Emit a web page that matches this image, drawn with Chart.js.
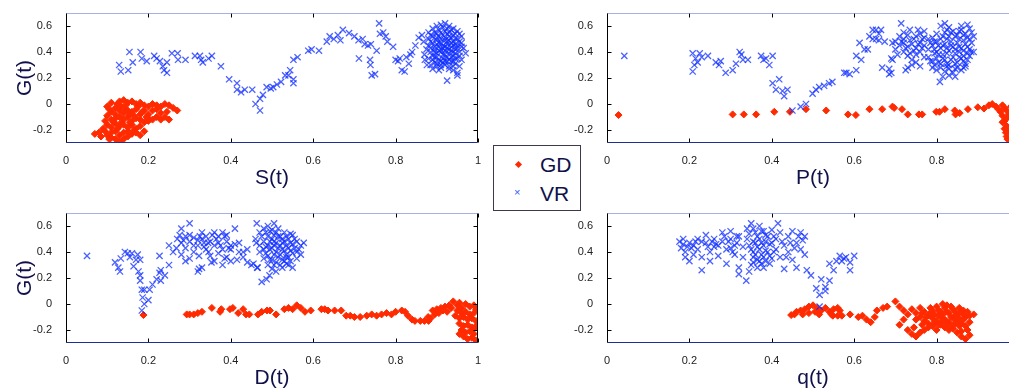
<!DOCTYPE html>
<html>
<head>
<meta charset="utf-8">
<script src="https://cdn.jsdelivr.net/npm/chart.js@4/dist/chart.umd.min.js"></script>
<style>
html,body{margin:0;padding:0;background:#fff;overflow:hidden;width:1009px;height:388px}
canvas{position:absolute}
#legend{position:absolute;left:493px;top:145px;width:86px;height:64px;border:1px solid #3a3a4a;background:#fff;font-family:"Liberation Sans",Arial,sans-serif;color:#10104a}
#legend .lbl{position:absolute;left:46px;font-size:21px;line-height:21px}
#legend .dia{position:absolute;left:22px;width:5px;height:5px;background:#ff2a00;transform:rotate(45deg)}
#legend .x{position:absolute;left:20px;font-size:11px;line-height:11px;color:#3355ff}
</style>
</head>
<body>
<canvas id="c1" width="490" height="195" style="left:0;top:0"></canvas>
<canvas id="c2" width="490" height="195" style="left:541px;top:0"></canvas>
<canvas id="c3" width="490" height="195" style="left:0;top:200px"></canvas>
<canvas id="c4" width="490" height="195" style="left:541px;top:200px"></canvas>
<div id="legend">
  <span class="dia" style="top:16px"></span><span class="lbl" style="top:8px">GD</span>
  <span class="x" style="top:41px">&times;</span><span class="lbl" style="top:37px">VR</span>
</div>
<script>
const xTicks = [0, 0.2, 0.4, 0.6, 0.8, 1]
const yTicks = [-0.2, 0, 0.2, 0.4, 0.6]
const xNames = ['S(t)', 'P(t)', 'D(t)', 'q(t)']
const yName = 'G(t)'

// [x, G] pairs
const gdS = [[0.10,-0.02],[0.11,0.01],[0.12,-0.03],[0.13,0.02],[0.14,0.03],[0.15,0.01],[0.16,0.02],[0.17,0.00],[0.18,0.01],[0.19,-0.01],[0.20,-0.02],[0.21,0.00],[0.22,-0.01],[0.23,-0.02],[0.24,0.00],[0.25,-0.01],[0.26,-0.03],[0.27,-0.05],[0.245,-0.06],[0.23,-0.07],[0.22,-0.10],[0.24,-0.10],[0.25,-0.12],[0.21,-0.12],[0.20,-0.08],[0.19,-0.05],[0.18,-0.08],[0.17,-0.04],[0.16,-0.06],[0.15,-0.05],[0.14,-0.07],[0.13,-0.05],[0.12,-0.08],[0.11,-0.06],[0.10,-0.09],[0.11,-0.12],[0.12,-0.11],[0.13,-0.10],[0.14,-0.12],[0.15,-0.10],[0.16,-0.13],[0.17,-0.11],[0.18,-0.12],[0.19,-0.14],[0.20,-0.13],[0.155,-0.08],[0.165,-0.09],[0.135,-0.02],[0.145,-0.01],[0.125,0.00],[0.175,-0.02],[0.185,-0.06],[0.105,-0.04],[0.095,-0.13],[0.10,-0.16],[0.11,-0.18],[0.12,-0.15],[0.13,-0.17],[0.14,-0.16],[0.15,-0.18],[0.16,-0.16],[0.17,-0.19],[0.18,-0.17],[0.09,-0.19],[0.08,-0.22],[0.07,-0.23],[0.085,-0.25],[0.10,-0.24],[0.11,-0.22],[0.12,-0.21],[0.13,-0.24],[0.14,-0.22],[0.15,-0.21],[0.16,-0.23],[0.17,-0.22],[0.18,-0.24],[0.12,-0.27],[0.13,-0.29],[0.11,-0.26],[0.14,-0.27],[0.19,-0.21],[0.095,-0.21],[0.105,-0.27],[0.15,-0.25],[0.125,-0.19],[0.20,-0.11],[0.21,-0.05],[0.22,-0.04],[0.23,-0.12],[0.195,-0.10],[0.115,-0.14],[0.135,-0.14],[0.145,-0.04],[0.155,-0.14],[0.165,-0.20]]

const vrS = [[0.129,0.30],[0.133,0.25],[0.151,0.26],[0.154,0.40],[0.162,0.32],[0.181,0.40],[0.184,0.35],[0.196,0.33],[0.214,0.37],[0.22,0.35],[0.228,0.33],[0.235,0.29],[0.238,0.26],[0.245,0.24],[0.245,0.32],[0.257,0.39],[0.271,0.39],[0.272,0.34],[0.29,0.34],[0.313,0.37],[0.325,0.37],[0.328,0.34],[0.332,0.32],[0.346,0.35],[0.354,0.37],[0.376,0.29],[0.396,0.19],[0.415,0.16],[0.415,0.11],[0.425,0.09],[0.434,0.11],[0.452,0.11],[0.46,0.0],[0.471,-0.05],[0.471,0.04],[0.478,0.07],[0.487,0.13],[0.497,0.12],[0.503,0.13],[0.512,0.15],[0.522,0.17],[0.532,0.22],[0.544,0.26],[0.54,0.22],[0.552,0.16],[0.552,0.19],[0.552,0.34],[0.562,0.36],[0.588,0.41],[0.596,0.42],[0.614,0.41],[0.633,0.48],[0.64,0.52],[0.65,0.50],[0.66,0.53],[0.666,0.49],[0.672,0.57],[0.687,0.545],[0.70,0.52],[0.71,0.49],[0.72,0.50],[0.711,0.35],[0.725,0.46],[0.733,0.45],[0.738,0.34],[0.739,0.30],[0.742,0.22],[0.75,0.23],[0.74,0.46],[0.754,0.41],[0.76,0.62],[0.762,0.54],[0.77,0.55],[0.776,0.52],[0.78,0.48],[0.794,0.44],[0.80,0.34],[0.806,0.33],[0.81,0.35],[0.815,0.26],[0.822,0.25],[0.826,0.36],[0.832,0.31],[0.836,0.38],[0.84,0.40],[0.848,0.45],[0.856,0.51],[0.864,0.53],[0.868,0.48],[0.871,0.34],[0.876,0.30],
  [0.88,0.55],[0.89,0.58],[0.90,0.60],[0.91,0.61],[0.92,0.62],[0.93,0.60],[0.94,0.58],[0.95,0.56],[0.96,0.52],[0.88,0.50],[0.89,0.52],[0.90,0.54],[0.91,0.55],[0.92,0.56],[0.93,0.55],[0.94,0.53],[0.95,0.50],[0.96,0.47],[0.88,0.45],[0.89,0.47],[0.90,0.49],[0.91,0.50],[0.92,0.51],[0.93,0.49],[0.94,0.48],[0.95,0.45],[0.965,0.43],[0.885,0.40],[0.895,0.42],[0.905,0.44],[0.915,0.45],[0.925,0.46],[0.935,0.44],[0.945,0.42],[0.955,0.40],[0.97,0.39],[0.88,0.35],[0.89,0.37],[0.90,0.39],[0.91,0.40],[0.92,0.41],[0.93,0.39],[0.94,0.37],[0.95,0.35],[0.96,0.34],[0.885,0.30],[0.895,0.32],[0.905,0.34],[0.915,0.35],[0.925,0.36],[0.935,0.33],[0.945,0.31],[0.955,0.29],[0.89,0.27],[0.90,0.29],[0.91,0.28],[0.92,0.30],[0.93,0.27],[0.94,0.26],[0.95,0.24],[0.925,0.18],[0.95,0.22],[0.875,0.42],[0.87,0.38],[0.905,0.57],[0.915,0.59],[0.935,0.57],[0.945,0.54],[0.955,0.48],[0.955,0.54],[0.90,0.46],[0.91,0.42],[0.92,0.44],[0.93,0.42],[0.94,0.45],[0.93,0.52],[0.92,0.49],[0.91,0.47],[0.90,0.51],[0.895,0.36],[0.915,0.32],[0.935,0.36],[0.945,0.39],[0.905,0.26],[0.925,0.33],[0.94,0.29],
  [0.885,0.53],[0.895,0.55],[0.905,0.52],[0.915,0.53],[0.925,0.54],[0.935,0.51],[0.945,0.50],[0.885,0.48],[0.895,0.44],[0.905,0.47],[0.915,0.43],[0.925,0.48],[0.935,0.47],[0.945,0.46],[0.885,0.43],[0.895,0.40],[0.905,0.41],[0.915,0.38],[0.925,0.43],[0.935,0.41],[0.945,0.35],[0.89,0.34],[0.90,0.36],[0.91,0.33],[0.92,0.38],[0.93,0.34],[0.94,0.33],[0.90,0.31],[0.92,0.33],[0.94,0.40],[0.95,0.43],[0.96,0.44],[0.955,0.37],[0.925,0.58],[0.93,0.29],[0.91,0.30]]

const gdP = [[0.028,-0.085],[0.305,-0.08],[0.332,-0.08],[0.362,-0.08],[0.406,-0.06],[0.444,-0.06],[0.483,-0.04],[0.532,-0.05],[0.585,-0.08],[0.604,-0.085],[0.637,-0.04],[0.668,-0.04],[0.693,-0.02],[0.697,-0.03],[0.716,-0.04],[0.73,-0.08],[0.757,-0.08],[0.765,-0.08],[0.799,-0.06],[0.807,-0.06],[0.82,-0.04],[0.844,-0.05],[0.846,-0.08],[0.856,-0.07],[0.876,-0.04],[0.90,-0.025],[0.915,-0.035],[0.927,-0.01],[0.935,0.0],[0.944,-0.02],[0.95,-0.04],[0.955,-0.06],[0.96,-0.01],[0.96,-0.09],[0.965,-0.03],[0.965,-0.13],[0.97,-0.05],[0.97,-0.17],[0.975,-0.08],[0.975,-0.21],[0.97,-0.25],[0.96,-0.14],[0.965,-0.19],[0.97,-0.11],[0.968,-0.22],[0.972,-0.27],[0.98,-0.02],[0.98,-0.11],[0.98,-0.27],[0.985,-0.06],[0.985,-0.15],[0.99,-0.03],[0.99,-0.19],[0.99,-0.24],[0.995,-0.09]]

const vrP = [[0.042,0.37],[0.208,0.39],[0.208,0.25],[0.212,0.30],[0.215,0.35],[0.22,0.32],[0.225,0.39],[0.23,0.36],[0.245,0.37],[0.264,0.32],[0.272,0.30],[0.276,0.33],[0.288,0.24],[0.305,0.26],[0.313,0.31],[0.322,0.40],[0.326,0.38],[0.33,0.34],[0.342,0.34],[0.374,0.37],[0.38,0.34],[0.386,0.35],[0.394,0.30],[0.402,0.37],[0.402,0.16],[0.41,0.11],[0.418,0.19],[0.426,0.10],[0.43,0.06],[0.438,0.11],[0.45,-0.05],[0.47,-0.02],[0.483,0.0],[0.499,0.08],[0.507,0.11],[0.515,0.13],[0.527,0.14],[0.539,0.16],[0.547,0.17],[0.576,0.24],[0.581,0.24],[0.589,0.23],[0.605,0.26],[0.605,0.37],[0.617,0.34],[0.613,0.47],[0.625,0.42],[0.633,0.42],[0.637,0.52],[0.645,0.57],[0.645,0.50],[0.653,0.50],[0.653,0.57],[0.66,0.54],[0.665,0.57],[0.66,0.49],[0.674,0.48],[0.668,0.28],[0.685,0.27],[0.685,0.23],[0.69,0.24],[0.693,0.34],[0.69,0.35],[0.693,0.47],[0.70,0.48],[0.705,0.38],[0.714,0.62],[0.72,0.55],[0.725,0.26],[0.735,0.57],[0.735,0.39],[0.745,0.50],[0.755,0.57],[0.76,0.29],
  [0.70,0.42],[0.71,0.45],[0.72,0.47],[0.73,0.44],[0.74,0.46],[0.75,0.43],[0.76,0.47],[0.77,0.45],[0.71,0.52],[0.72,0.50],[0.73,0.53],[0.75,0.52],[0.76,0.54],[0.77,0.51],[0.72,0.40],[0.73,0.37],[0.74,0.34],[0.75,0.38],[0.76,0.40],[0.77,0.36],[0.74,0.30],[0.75,0.32],[0.73,0.28],[0.77,0.56],[0.78,0.50],
  [0.78,0.42],[0.79,0.45],[0.80,0.40],[0.81,0.43],[0.82,0.46],[0.83,0.41],[0.84,0.44],[0.85,0.47],[0.86,0.43],[0.87,0.46],[0.88,0.42],[0.89,0.40],[0.78,0.36],[0.79,0.33],[0.80,0.35],[0.81,0.31],[0.82,0.34],[0.83,0.30],[0.84,0.36],[0.85,0.32],[0.86,0.35],[0.87,0.31],[0.88,0.37],[0.79,0.28],[0.80,0.26],[0.81,0.28],[0.82,0.25],[0.83,0.27],[0.84,0.24],[0.85,0.28],[0.86,0.26],[0.87,0.29],[0.808,0.17],[0.815,0.21],[0.83,0.22],[0.845,0.21],[0.79,0.51],[0.80,0.54],[0.81,0.50],[0.82,0.55],[0.83,0.52],[0.84,0.56],[0.85,0.53],[0.86,0.57],[0.87,0.54],[0.88,0.58],[0.88,0.50],[0.89,0.52],[0.81,0.60],[0.82,0.62],[0.83,0.59],[0.86,0.60],[0.875,0.61],[0.885,0.47],[0.884,0.40],[0.80,0.48],[0.815,0.38],[0.825,0.39],[0.835,0.48],[0.845,0.39],[0.855,0.40],[0.865,0.49],[0.875,0.39],[0.795,0.39],[0.805,0.45],[0.825,0.50],[0.855,0.50],[0.865,0.37],
  [0.785,0.47],[0.795,0.42],[0.805,0.38],[0.815,0.45],[0.825,0.43],[0.835,0.45],[0.845,0.42],[0.855,0.44],[0.865,0.41],[0.875,0.44],[0.785,0.33],[0.805,0.32],[0.815,0.35],[0.825,0.31],[0.835,0.34],[0.845,0.31],[0.855,0.36],[0.865,0.33],[0.875,0.34],[0.795,0.30],[0.825,0.29],[0.845,0.27],[0.865,0.28],[0.795,0.48],[0.815,0.52],[0.825,0.57],[0.835,0.55],[0.845,0.52],[0.855,0.56],[0.865,0.53],[0.875,0.51],[0.885,0.55],[0.715,0.48],[0.725,0.43],[0.745,0.41],[0.755,0.46],[0.765,0.43],[0.765,0.50],[0.735,0.49]]

const gdD = [[0.188,-0.085],[0.293,-0.08],[0.30,-0.08],[0.31,-0.08],[0.32,-0.07],[0.33,-0.06],[0.354,-0.03],[0.374,-0.06],[0.377,-0.04],[0.398,-0.04],[0.405,-0.03],[0.418,-0.07],[0.43,-0.04],[0.437,-0.08],[0.445,-0.08],[0.466,-0.08],[0.475,-0.06],[0.488,-0.05],[0.495,-0.05],[0.51,-0.08],[0.53,-0.04],[0.54,-0.03],[0.55,-0.04],[0.56,-0.01],[0.57,-0.03],[0.58,-0.06],[0.594,-0.05],[0.62,-0.04],[0.628,-0.04],[0.636,-0.05],[0.652,-0.05],[0.668,-0.05],[0.68,-0.09],[0.69,-0.09],[0.70,-0.10],[0.714,-0.10],[0.73,-0.09],[0.742,-0.08],[0.754,-0.09],[0.766,-0.08],[0.778,-0.07],[0.79,-0.08],[0.80,-0.06],[0.815,-0.05],[0.823,-0.06],[0.83,-0.09],[0.84,-0.12],[0.847,-0.13],[0.86,-0.13],[0.87,-0.13],
  [0.879,-0.10],[0.89,-0.05],[0.88,-0.13],[0.90,-0.04],[0.91,-0.03],[0.92,-0.02],[0.93,-0.01],[0.94,0.02],[0.95,-0.01],[0.955,0.01],[0.96,-0.03],[0.97,0.0],[0.98,-0.02],[0.99,-0.01],[0.995,-0.04],[0.95,-0.05],[0.96,-0.07],[0.97,-0.06],[0.98,-0.08],[0.99,-0.07],[0.945,-0.09],[0.955,-0.11],[0.965,-0.10],[0.975,-0.12],[0.985,-0.11],[0.995,-0.13],[0.955,-0.15],[0.965,-0.17],[0.975,-0.16],[0.985,-0.18],[0.995,-0.17],[0.96,-0.20],[0.97,-0.22],[0.98,-0.21],[0.99,-0.23],[0.965,-0.25],[0.975,-0.27],[0.985,-0.26],[0.995,-0.28],[0.955,-0.23],[0.99,-0.19],[0.935,-0.03],[0.925,-0.06],[0.915,-0.05],[0.905,-0.07],[0.895,-0.08],[0.885,-0.11]]

const vrD = [[0.051,0.37],[0.119,0.32],[0.127,0.28],[0.131,0.25],[0.133,0.35],[0.143,0.40],[0.15,0.39],[0.155,0.36],[0.16,0.39],[0.164,0.29],[0.17,0.34],[0.174,0.38],[0.18,0.34],[0.176,0.25],[0.18,0.22],[0.18,0.18],[0.184,0.11],[0.186,0.05],[0.184,-0.05],[0.19,0.0],[0.19,0.11],[0.20,0.03],[0.203,0.11],[0.21,0.15],[0.22,0.19],[0.227,0.24],[0.23,0.26],[0.227,0.37],[0.23,0.18],[0.24,0.22],[0.25,0.30],[0.268,0.43],[0.276,0.53],[0.28,0.58],[0.285,0.49],[0.29,0.33],[0.30,0.62],[0.30,0.53],[0.31,0.45],[0.32,0.49],[0.323,0.37],[0.323,0.27],[0.33,0.55],[0.335,0.47],[0.346,0.40],[0.353,0.32],[0.36,0.55],[0.37,0.47],[0.38,0.42],[0.385,0.35],[0.39,0.53],[0.40,0.45],[0.41,0.58],[0.415,0.34],[0.42,0.47],[0.43,0.40],[0.44,0.32],[0.455,0.31],[0.464,0.28],[0.462,0.47],[0.463,0.62],
  [0.27,0.50],[0.28,0.47],[0.29,0.52],[0.30,0.48],[0.31,0.51],[0.32,0.45],[0.33,0.50],[0.34,0.52],[0.35,0.48],[0.36,0.45],[0.37,0.52],[0.38,0.55],[0.39,0.48],[0.40,0.42],[0.41,0.46],[0.42,0.40],[0.43,0.36],[0.44,0.42],[0.45,0.30],[0.34,0.42],[0.35,0.37],[0.36,0.33],[0.37,0.39],[0.38,0.30],[0.39,0.36],[0.40,0.33],[0.33,0.28],[0.32,0.25],[0.26,0.40],[0.25,0.45],[0.28,0.38],[0.30,0.35],[0.31,0.40],[0.29,0.43],[0.325,0.52],[0.345,0.47],[0.365,0.50],[0.375,0.45],[0.385,0.52],[0.355,0.53],[0.335,0.44],[0.395,0.43],
  [0.46,0.50],[0.47,0.55],[0.48,0.58],[0.49,0.60],[0.50,0.57],[0.51,0.55],[0.52,0.52],[0.53,0.55],[0.54,0.50],[0.55,0.53],[0.56,0.48],[0.57,0.45],[0.47,0.45],[0.48,0.48],[0.49,0.52],[0.50,0.50],[0.51,0.47],[0.52,0.45],[0.53,0.48],[0.54,0.43],[0.55,0.46],[0.56,0.40],[0.47,0.40],[0.48,0.42],[0.49,0.45],[0.50,0.43],[0.51,0.40],[0.52,0.38],[0.53,0.41],[0.54,0.36],[0.55,0.39],[0.56,0.35],[0.48,0.35],[0.49,0.37],[0.50,0.34],[0.51,0.32],[0.52,0.30],[0.53,0.33],[0.54,0.30],[0.55,0.28],[0.49,0.30],[0.50,0.27],[0.51,0.25],[0.475,0.17],[0.487,0.19],[0.494,0.22],[0.465,0.28],[0.505,0.62],[0.495,0.42],[0.505,0.48],[0.515,0.52],[0.525,0.42],[0.535,0.38],[0.545,0.47],[0.565,0.42],[0.57,0.38],[0.577,0.47],
  [0.475,0.52],[0.485,0.55],[0.495,0.56],[0.505,0.53],[0.515,0.58],[0.525,0.50],[0.535,0.52],[0.545,0.54],[0.555,0.50],[0.485,0.44],[0.495,0.48],[0.505,0.45],[0.515,0.43],[0.525,0.47],[0.535,0.45],[0.545,0.41],[0.555,0.43],[0.485,0.39],[0.495,0.34],[0.505,0.38],[0.515,0.36],[0.525,0.34],[0.535,0.36],[0.545,0.33],[0.505,0.30],[0.525,0.28],[0.535,0.31]]

const gdQ = [[0.447,-0.085],[0.455,-0.08],[0.46,-0.06],[0.47,-0.05],[0.475,-0.08],[0.48,-0.04],[0.49,-0.02],[0.50,-0.01],[0.51,-0.03],[0.505,-0.06],[0.49,-0.07],[0.515,-0.08],[0.52,-0.05],[0.53,-0.03],[0.54,-0.06],[0.55,-0.04],[0.56,-0.03],[0.565,-0.05],[0.545,-0.08],[0.548,-0.09],[0.56,-0.09],[0.57,-0.09],[0.59,-0.08],[0.61,-0.10],[0.62,-0.09],[0.63,-0.12],[0.64,-0.14],[0.65,-0.10],[0.655,-0.05],[0.67,-0.03],[0.68,-0.02],[0.70,0.02],[0.71,-0.02],[0.72,-0.05],[0.71,-0.16],[0.72,-0.12],[0.73,-0.08],
  [0.74,-0.04],[0.75,-0.07],[0.76,-0.03],[0.77,-0.06],[0.78,-0.09],[0.79,-0.05],[0.80,-0.02],[0.81,-0.06],[0.82,-0.03],[0.83,-0.07],[0.84,-0.04],[0.85,-0.08],[0.86,-0.06],[0.87,-0.10],[0.88,-0.09],[0.89,-0.08],[0.75,-0.12],[0.76,-0.10],[0.77,-0.13],[0.78,-0.15],[0.79,-0.11],[0.80,-0.13],[0.81,-0.10],[0.82,-0.12],[0.83,-0.14],[0.84,-0.11],[0.85,-0.13],[0.86,-0.15],[0.87,-0.17],[0.73,-0.20],[0.74,-0.23],[0.75,-0.25],[0.76,-0.22],[0.77,-0.20],[0.78,-0.18],[0.79,-0.17],[0.80,-0.20],[0.81,-0.16],[0.82,-0.18],[0.83,-0.20],[0.84,-0.19],[0.85,-0.22],[0.86,-0.25],[0.87,-0.27],[0.88,-0.24],[0.86,-0.21],[0.875,-0.20],[0.88,-0.14],[0.815,0.0],[0.825,-0.01],[0.835,-0.02],[0.845,-0.06],[0.855,-0.03],[0.865,-0.05],[0.875,-0.06],[0.765,-0.16],[0.745,-0.18],[0.785,-0.03],[0.795,-0.08],[0.805,-0.09],
  [0.785,-0.07],[0.805,-0.05],[0.815,-0.08],[0.825,-0.06],[0.835,-0.10],[0.845,-0.09],[0.855,-0.11],[0.865,-0.08],[0.815,-0.13],[0.825,-0.15],[0.835,-0.17],[0.845,-0.15],[0.855,-0.17],[0.865,-0.12],[0.795,-0.14],[0.805,-0.16],[0.775,-0.10],[0.765,-0.07]]

const vrQ = [[0.176,0.48],[0.18,0.43],[0.185,0.46],[0.19,0.36],[0.19,0.40],[0.20,0.47],[0.20,0.33],[0.21,0.45],[0.21,0.38],[0.22,0.50],[0.22,0.42],[0.23,0.26],[0.23,0.36],[0.24,0.53],[0.24,0.47],[0.25,0.40],[0.25,0.33],[0.26,0.50],[0.26,0.44],[0.27,0.37],[0.28,0.55],[0.28,0.48],[0.29,0.42],[0.29,0.31],[0.30,0.56],[0.30,0.50],[0.31,0.45],[0.31,0.38],[0.32,0.52],[0.32,0.23],[0.32,0.28],[0.33,0.44],[0.33,0.36],[0.338,0.18],[0.34,0.58],[0.34,0.50],[0.35,0.62],[0.35,0.42],[0.35,0.30],[0.36,0.55],[0.36,0.47],[0.36,0.38],[0.37,0.60],[0.37,0.50],[0.37,0.42],[0.37,0.33],[0.38,0.56],[0.38,0.45],[0.38,0.36],[0.38,0.28],[0.39,0.52],[0.39,0.40],[0.40,0.57],[0.40,0.47],[0.40,0.35],[0.41,0.50],[0.41,0.42],[0.415,0.62],[0.42,0.55],[0.42,0.36],[0.43,0.45],[0.43,0.27],[0.44,0.52],[0.44,0.40],[0.45,0.34],[0.45,0.56],[0.46,0.47],[0.46,0.28],[0.47,0.55],[0.47,0.42],[0.48,0.52],[0.48,0.38],[0.485,0.26],[0.495,0.22],[0.508,0.12],[0.516,0.07],[0.52,0.19],[0.53,0.10],[0.54,0.18],[0.55,0.26],[0.54,0.31],[0.557,0.33],[0.565,0.37],[0.575,0.35],[0.59,0.32],[0.59,0.26],[0.60,0.37],[0.516,-0.02],[0.53,0.13],[0.57,0.33],[0.58,0.36],[0.27,0.45],[0.23,0.48],[0.195,0.44],[0.345,0.25],[0.355,0.36],[0.365,0.28],[0.375,0.56],[0.385,0.48],[0.395,0.31],[0.405,0.40],[0.425,0.48],[0.435,0.36],[0.30,0.43],[0.315,0.52],
  [0.345,0.54],[0.355,0.58],[0.365,0.52],[0.375,0.47],[0.385,0.53],[0.395,0.46],[0.345,0.45],[0.355,0.48],[0.365,0.44],[0.375,0.38],[0.385,0.41],[0.395,0.37],[0.355,0.40],[0.365,0.34],[0.375,0.31],[0.385,0.33],[0.405,0.52],[0.355,0.32],[0.245,0.44],[0.255,0.48],[0.265,0.46],[0.205,0.43],[0.215,0.48],[0.185,0.50],[0.295,0.48],[0.305,0.40],[0.315,0.47],[0.285,0.52],[0.445,0.47],[0.455,0.43],[0.465,0.52],[0.475,0.49]]

const fontName = '"Liberation Sans", Arial, sans-serif'
const titleColor = '#10104a'

// MATLAB-like box: inward tick marks, dotted top edge
const framePlugin = {
  id: 'frame',
  afterDatasetsDraw(chart) {
    const {ctx, chartArea: a, scales} = chart
    const L = Math.round(a.left) + 0.5, R = Math.round(a.right) - 0.5
    const T = Math.round(a.top) + 0.5, B = Math.round(a.bottom) - 0.5
    ctx.save()
    ctx.lineWidth = 1
    ctx.strokeStyle = '#000'
    ctx.beginPath()
    ctx.moveTo(L, T); ctx.lineTo(L, B)
    ctx.moveTo(R, T); ctx.lineTo(R, B)
    scales.x.ticks.forEach(t => {
      const px = Math.round(scales.x.getPixelForValue(t.value)) + 0.5
      ctx.moveTo(px, B); ctx.lineTo(px, B - 4)
      ctx.moveTo(px, T); ctx.lineTo(px, T + 4)
    })
    scales.y.ticks.forEach(t => {
      const py = Math.round(scales.y.getPixelForValue(t.value)) + 0.5
      ctx.moveTo(L, py); ctx.lineTo(L + 4, py)
      ctx.moveTo(R, py); ctx.lineTo(R - 4, py)
    })
    ctx.stroke()
    ctx.strokeStyle = '#1f2f9a'
    ctx.beginPath()
    ctx.moveTo(L, B); ctx.lineTo(R, B)
    ctx.stroke()
    ctx.strokeStyle = '#4a5fd0'
    ctx.setLineDash([1, 1])
    ctx.beginPath()
    ctx.moveTo(L, T); ctx.lineTo(R, T)
    ctx.stroke()
    ctx.restore()
  }
}

const fmt = v => String(+Number(v).toFixed(1))

function makePanel(id, xName, gd, vr, showY) {
  return new Chart(document.getElementById(id), {
    type: 'scatter',
    data: {
      datasets: [
        {label: 'VR', data: vr.map(p => ({x: p[0], y: p[1]})), pointStyle: 'crossRot', pointRadius: 4.4,
          borderColor: 'rgba(15,45,255,0.75)', backgroundColor: 'rgba(15,45,255,0.75)', borderWidth: 1.3, order: 0},
        {label: 'GD', data: gd.map(p => ({x: p[0], y: p[1]})), pointStyle: 'rectRot', pointRadius: 3.5,
          borderColor: '#ff2a00', backgroundColor: '#ff2a00', borderWidth: 1, order: 1}
      ]
    },
    options: {
      responsive: false, animation: false, devicePixelRatio: 1, events: [],
      layout: {padding: {top: 13, right: 12, left: 0, bottom: 0}},
      plugins: {legend: {display: false}, tooltip: {enabled: false}},
      scales: {
        x: {
          type: 'linear', min: 0, max: 1,
          afterBuildTicks: s => { s.ticks = xTicks.map(v => ({value: v})) },
          afterFit: s => { s.height = 52 },
          grid: {display: false}, border: {display: false},
          ticks: {padding: 3, autoSkip: false, maxRotation: 0, color: '#222', font: {family: fontName, size: 11}, callback: fmt},
          title: {display: true, text: xName, color: titleColor, font: {family: fontName, size: 21}, padding: {top: 0, bottom: 4}}
        },
        y: {
          type: 'linear', min: -0.3, max: 0.7,
          afterBuildTicks: s => { s.ticks = yTicks.map(v => ({value: v})) },
          afterFit: s => { s.width = 66 },
          grid: {display: false}, border: {display: false},
          ticks: {padding: 6, color: '#222', font: {family: fontName, size: 11}, callback: fmt},
          title: {display: showY, text: yName, color: titleColor, font: {family: fontName, size: 21}, padding: {top: 13, bottom: 0}}
        }
      }
    },
    plugins: [framePlugin]
  })
}

makePanel('c1', xNames[0], gdS, vrS, true)
makePanel('c2', xNames[1], gdP, vrP, false)
makePanel('c3', xNames[2], gdD, vrD, true)
makePanel('c4', xNames[3], gdQ, vrQ, false)
</script>
</body>
</html>
